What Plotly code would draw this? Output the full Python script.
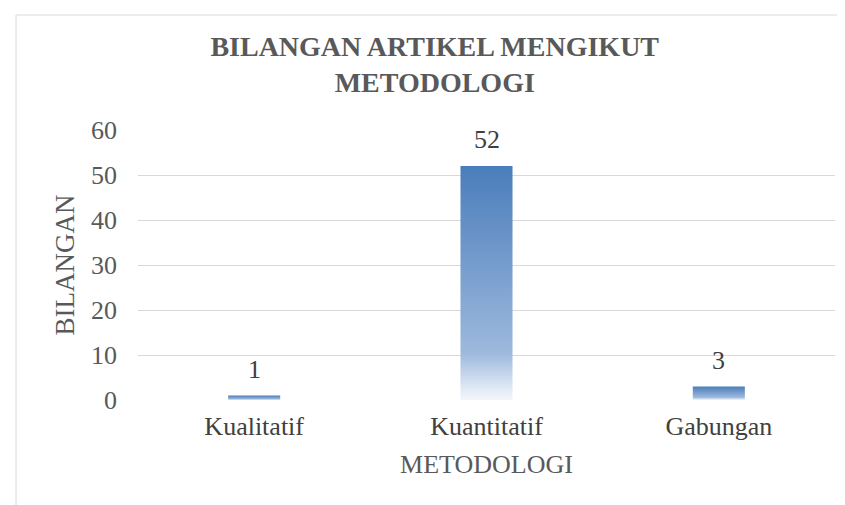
import plotly.graph_objects as go

categories = ["Kualitatif", "Kuantitatif", "Gabungan"]
values = [1, 52, 3]
y_ticks = [0, 10, 20, 30, 40, 50, 60]

title_text = "BILANGAN ARTIKEL MENGIKUT<br>METODOLOGI"
x_title = "METODOLOGI"
y_title = "BILANGAN"

FONT = "Liberation Serif"
BAR_HALF = 0.112
gradient = [[0.0, "#f3f6fb"], [0.06, "#dce6f3"], [0.2, "#9db9dd"], [1.0, "#4a7dbb"]]

fig = go.Figure()

for i, (cat, v) in enumerate(zip(categories, values)):
    xs = [i - BAR_HALF, i - BAR_HALF, i + BAR_HALF, i + BAR_HALF, i - BAR_HALF]
    ys = [0, v, v, 0, 0]
    fig.add_trace(go.Scatter(
        x=xs, y=ys, mode="lines", fill="toself",
        line=dict(width=0, color="rgba(0,0,0,0)"),
        fillgradient=dict(type="vertical", colorscale=gradient, start=0, stop=v),
        name=cat, hoverinfo="skip", showlegend=False,
    ))

for i, v in enumerate(values):
    fig.add_annotation(x=i, y=v, text=str(v), showarrow=False, yanchor="bottom",
                       yshift=10, font=dict(family=FONT, size=26, color="#404040"))

fig.update_layout(
    width=845, height=505,
    margin=dict(l=130, r=18, t=122, b=113),
    paper_bgcolor="white", plot_bgcolor="white",
    showlegend=False,
    title=dict(text=title_text, x=0.505, xref="container", xanchor="center",
               y=0.905, yref="container", yanchor="middle",
               font=dict(family=FONT, size=28, color="#595959", weight="bold")),
    xaxis=dict(range=[-0.5, 2.5], tickmode="array", tickvals=list(range(len(categories))),
               ticktext=categories, showgrid=False, zeroline=False, showline=False, ticks="",
               ticklabelstandoff=8,
               tickfont=dict(family=FONT, size=26, color="#404040"),
               title=dict(text=x_title, standoff=14, font=dict(family=FONT, size=26, color="#595959"))),
    yaxis=dict(range=[0, 60], tickmode="array", tickvals=y_ticks, showgrid=True,
               gridcolor="#d9d9d9", gridwidth=1, zeroline=False, showline=False, ticks="",
               ticklabelstandoff=20,
               tickfont=dict(family=FONT, size=26, color="#595959"),
               title=dict(text=y_title, standoff=8, font=dict(family=FONT, size=27, color="#595959"))),
    shapes=[dict(type="rect", xref="paper", yref="paper", x0=-0.175, x1=1.2, y0=-0.6, y1=1.426,
                 line=dict(color="#d9d9d9", width=1), fillcolor="rgba(0,0,0,0)", layer="below")],
)

fig.write_html("out.html")
